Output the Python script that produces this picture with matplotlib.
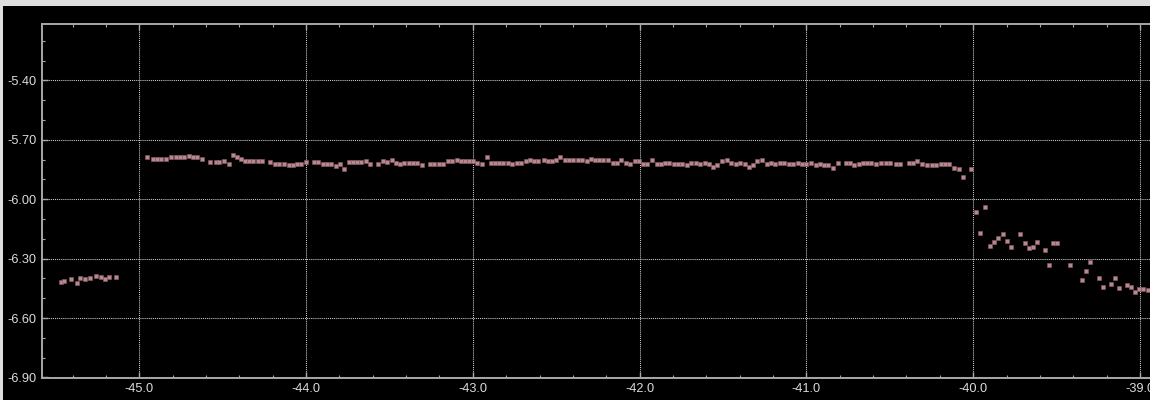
# plot.py

"""
Scatter trace on a dark background: a short low segment on the left, a long
flat run near -5.8 and a drop-off after x = -40.
"""

import matplotlib.pyplot as plt

from matplotlib.patches import Rectangle
from matplotlib.ticker import FixedLocator, MultipleLocator, FormatStrFormatter


# Data.

left_x = [-45.471, -45.451, -45.408, -45.376, -45.353, -45.324, -45.293,
          -45.258, -45.230, -45.204, -45.183, -45.141]
left_y = [-6.418, -6.412, -6.403, -6.422, -6.398, -6.405, -6.398,
          -6.390, -6.393, -6.402, -6.393, -6.395]

main_x = [-44.952, -44.920, -44.896, -44.870, -44.840, -44.808, -44.782,
          -44.756, -44.730, -44.704, -44.678, -44.652, -44.622, -44.574,
          -44.542, -44.520, -44.492, -44.464, -44.436, -44.412, -44.388,
          -44.364, -44.341, -44.317, -44.290, -44.264, -44.215, -44.185,
          -44.161, -44.134, -44.104, -44.080, -44.055, -44.029, -44.001,
          -43.951, -43.927, -43.900, -43.875, -43.849, -43.821, -43.795,
          -43.771, -43.745, -43.719, -43.695, -43.671, -43.641, -43.615,
          -43.567, -43.541, -43.513,
          -43.485, -43.461, -43.437, -43.411, -43.385, -43.361, -43.333,
          -43.307, -43.257, -43.231, -43.205, -43.179, -43.151, -43.127,
          -43.097, -43.071, -43.045, -43.021, -42.997, -42.973, -42.947,
          -42.918, -42.892, -42.868, -42.842, -42.818, -42.792, -42.764,
          -42.738, -42.710, -42.684, -42.658, -42.634, -42.610, -42.576,
          -42.552, -42.528, -42.504, -42.476, -42.450, -42.426, -42.398,
          -42.370, -42.344, -42.318, -42.294, -42.268, -42.242, -42.218,
          -42.190, -42.162, -42.138, -42.110, -42.084, -42.058, -42.028,
          -42.002,
          -41.978, -41.954, -41.928, -41.898, -41.872, -41.848, -41.822,
          -41.796, -41.772, -41.744, -41.718, -41.692, -41.664, -41.638,
          -41.610, -41.582, -41.558, -41.534, -41.506, -41.478, -41.452,
          -41.422, -41.399, -41.371, -41.347, -41.323, -41.295, -41.265,
          -41.239, -41.213, -41.187, -41.159, -41.133, -41.105, -41.079,
          -41.053, -41.029, -41.003, -40.973, -40.945, -40.921, -40.895,
          -40.869, -40.841, -40.811, -40.763, -40.739, -40.715, -40.687,
          -40.661, -40.637, -40.611, -40.581,
          -40.555, -40.522, -40.498, -40.465, -40.441, -40.384, -40.360,
          -40.336, -40.306, -40.279, -40.249, -40.225, -40.194, -40.168,
          -40.144, -40.117, -40.088, -40.064, -40.016]
main_y = [-5.787, -5.797, -5.797, -5.797, -5.795, -5.789, -5.789,
          -5.789, -5.789, -5.782, -5.789, -5.789, -5.797, -5.814,
          -5.814, -5.814, -5.807, -5.821, -5.775, -5.787, -5.795,
          -5.807, -5.807, -5.807, -5.807, -5.807, -5.814, -5.821,
          -5.821, -5.821, -5.827, -5.827, -5.821, -5.821, -5.814,
          -5.814, -5.814, -5.821, -5.821, -5.821, -5.834, -5.821,
          -5.846, -5.814, -5.814, -5.814, -5.814, -5.807, -5.821,
          -5.821, -5.807, -5.814,
          -5.802, -5.816, -5.822, -5.816, -5.816, -5.816, -5.816,
          -5.829, -5.822, -5.822, -5.822, -5.822, -5.809, -5.809,
          -5.802, -5.809, -5.809, -5.809, -5.809, -5.816, -5.822,
          -5.789, -5.816, -5.816, -5.816, -5.816, -5.816, -5.822,
          -5.816, -5.816, -5.809, -5.802, -5.809, -5.809, -5.802,
          -5.809, -5.809, -5.802, -5.789, -5.802, -5.802, -5.802,
          -5.802, -5.802, -5.809, -5.795, -5.802, -5.802, -5.802,
          -5.802, -5.816, -5.816, -5.802, -5.816, -5.822, -5.809,
          -5.809,
          -5.822, -5.822, -5.802, -5.822, -5.822, -5.816, -5.816,
          -5.822, -5.822, -5.822, -5.829, -5.816, -5.816, -5.822,
          -5.816, -5.822, -5.836, -5.829, -5.809, -5.802, -5.816,
          -5.822, -5.816, -5.822, -5.836, -5.829, -5.809, -5.802,
          -5.822, -5.816, -5.822, -5.816, -5.816, -5.822, -5.822,
          -5.816, -5.822, -5.822, -5.816, -5.829, -5.822, -5.829,
          -5.829, -5.843, -5.816, -5.816, -5.816, -5.829, -5.822,
          -5.816, -5.816, -5.816, -5.822,
          -5.816, -5.816, -5.816, -5.822, -5.822, -5.816, -5.816,
          -5.809, -5.821, -5.827, -5.827, -5.827, -5.821, -5.821,
          -5.821, -5.841, -5.847, -5.886, -5.847]

tail_x = [-39.982, -39.958, -39.928, -39.902, -39.878, -39.854, -39.824,
          -39.798, -39.774, -39.718, -39.692, -39.668, -39.644, -39.618,
          -39.570, -39.544, -39.520, -39.496, -39.420, -39.347, -39.323,
          -39.299, -39.248, -39.222, -39.175, -39.151, -39.126, -39.078,
          -39.052, -39.028, -39.004, -38.980, -38.954]
tail_y = [-6.067, -6.171, -6.041, -6.235, -6.216, -6.196, -6.178,
          -6.210, -6.241, -6.178, -6.223, -6.248, -6.241, -6.216,
          -6.255, -6.332, -6.223, -6.223, -6.332, -6.410, -6.365,
          -6.319, -6.396, -6.442, -6.428, -6.396, -6.449, -6.435,
          -6.442, -6.467, -6.455, -6.455, -6.461]

x_ticks = [-45.0, -44.0, -43.0, -42.0, -41.0, -40.0, -39.0]
y_ticks = [-6.90, -6.60, -6.30, -6.00, -5.70, -5.40]


if __name__ == "__main__":
    # Plot parameters.

    x_min, x_max = -45.585, -38.94
    y_min, y_max = -6.9015, -5.115

    point_colour = '#b8878f'
    axis_colour = '#a8a8a8'
    text_colour = '#dcdcdc'

    fig = plt.figure(figsize=(11.5, 4.0), dpi=100, facecolor='#dedede')

    # Black panel with a thin light frame showing on the top and left.
    # Negative zorder keeps it behind the axes.

    fig.patches.append(Rectangle((3.0 / 1150, 0.0), 1.0, 1.0 - 6.0 / 400,
                                 transform=fig.transFigure, facecolor='black',
                                 edgecolor='none', zorder=-10))

    axes = fig.add_axes([41.7 / 1150, 22.3 / 400, 1.0 - 41.7 / 1150,
                         (378.0 - 24.3) / 400])
    axes.set_facecolor('black')

    # Data points.

    for xs, ys in [(left_x, left_y), (main_x, main_y), (tail_x, tail_y)]:
        axes.plot(xs, ys, 's', ms=2.9, mfc=point_colour, mec='#8a5f66',
                  mew=0.4, zorder=3, clip_on=True)

    axes.set_xlim(x_min, x_max)
    axes.set_ylim(y_min, y_max)

    # Ticks and grid.

    axes.xaxis.set_major_locator(FixedLocator(x_ticks))
    axes.yaxis.set_major_locator(FixedLocator(y_ticks))
    axes.xaxis.set_minor_locator(MultipleLocator(0.2))
    axes.yaxis.set_minor_locator(MultipleLocator(0.1))
    axes.xaxis.set_major_formatter(FormatStrFormatter('%.1f'))
    axes.yaxis.set_major_formatter(FormatStrFormatter('%.2f'))

    axes.tick_params(which='both', direction='in', colors=axis_colour,
                     top=True, bottom=True, left=True, right=False,
                     labelcolor=text_colour, labelsize=9.2)
    axes.tick_params(which='major', length=4.0, width=1.0)
    axes.tick_params(which='minor', length=2.4, width=0.8)
    axes.tick_params(axis='x', pad=4)
    axes.tick_params(axis='y', pad=4)

    for lab in axes.get_xticklabels() + axes.get_yticklabels():
        lab.set_family(['Liberation Sans', 'DejaVu Sans'])

    axes.grid(True, which='major', color='#d0d0d0', linestyle=(0, (1, 1)),
              linewidth=0.75)
    axes.set_axisbelow(True)

    for side in ['left', 'top', 'bottom']:
        axes.spines[side].set_color(axis_colour)
        axes.spines[side].set_linewidth(1.4)
    axes.spines['right'].set_visible(False)

    # Save.

    plt.savefig(r"out.png", dpi=100, facecolor=fig.get_facecolor())
    plt.close()
